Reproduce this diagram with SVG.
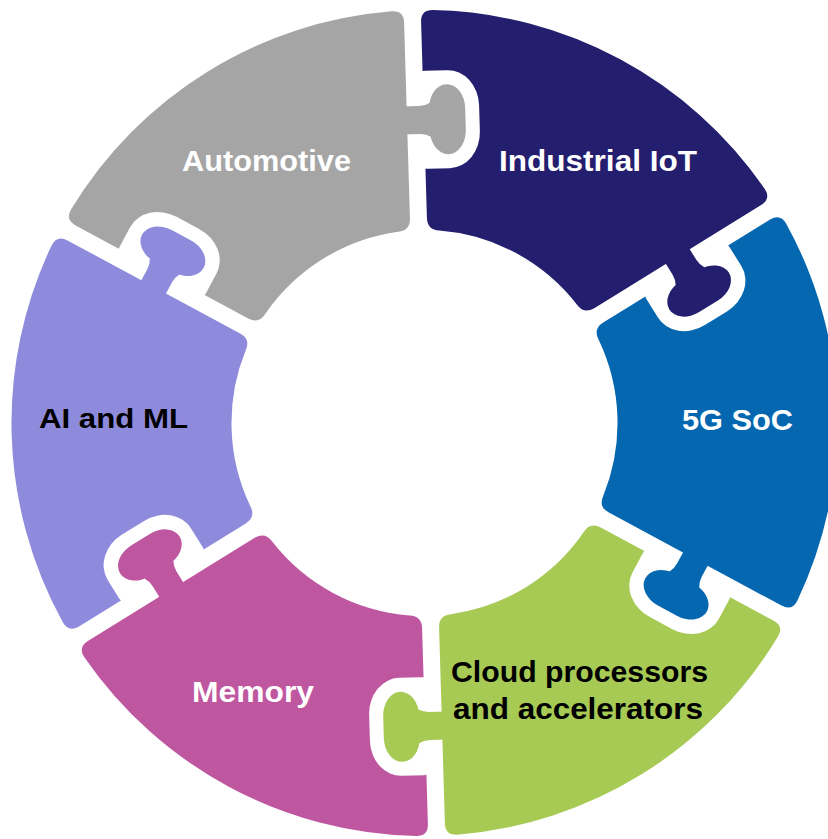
<svg xmlns="http://www.w3.org/2000/svg" width="828" height="839" viewBox="0 0 828 839">
  <style>
    .lbl { font-family: "Liberation Sans", Arial, sans-serif; font-weight: bold; font-size: 30px; }
    .w { fill: #ffffff; }
    .k { fill: #000000; }
  </style>
  <defs>
    <mask id="pm" maskUnits="userSpaceOnUse" x="-470" y="-470" width="940" height="940">
      <path fill="#fff" d="M 8.5 -400.91 Q 8.5 -412.91 20.46 -412.49 A 413 413 0 0 1 346.96 -224.05 Q 353.34 -213.82 342.95 -207.82 L 173.12 -109.77 Q 162.73 -103.77 155.98 -113.70 A 193 193 0 0 0 20.48 -191.91 Q 8.5 -192.81 8.5 -204.81 Z"/>
      <g transform="rotate(60)" fill="#fff">
        <path d="M -14 -317 L 4 -317 Q 10 -317 15 -320 L 15 -286 Q 10 -289 4 -289 L -14 -289 Z"/>
        <rect x="14" y="-338" width="36" height="70" rx="18" ry="24"/>
      </g>
      <rect x="-20" y="-352" width="84" height="98" rx="31" ry="36" fill="#000"/>
    </mask>
  </defs>
  <rect width="828" height="839" fill="#ffffff"/>
  <g id="industrial-iot">
    <g transform="translate(424.5 423) rotate(-1.7)"><rect x="-470" y="-470" width="940" height="940" fill="#231E6E" mask="url(#pm)"/></g>
    <text class="lbl w" x="499" y="171" textLength="198" lengthAdjust="spacingAndGlyphs">Industrial IoT</text>
  </g>
  <g id="5g-soc">
    <g transform="translate(424.5 423) rotate(58.3)"><rect x="-470" y="-470" width="940" height="940" fill="#0467B0" mask="url(#pm)"/></g>
    <text class="lbl w" x="682" y="430" textLength="111" lengthAdjust="spacingAndGlyphs">5G SoC</text>
  </g>
  <g id="cloud">
    <g transform="translate(424.5 423) rotate(118.3)"><rect x="-470" y="-470" width="940" height="940" fill="#A7CA55" mask="url(#pm)"/></g>
    <text class="lbl k" x="451" y="682" textLength="257" lengthAdjust="spacingAndGlyphs">Cloud processors</text>
    <text class="lbl k" x="453" y="719" textLength="250" lengthAdjust="spacingAndGlyphs">and accelerators</text>
  </g>
  <g id="memory">
    <g transform="translate(424.5 423) rotate(178.3)"><rect x="-470" y="-470" width="940" height="940" fill="#BF56A0" mask="url(#pm)"/></g>
    <text class="lbl w" x="192" y="702" textLength="122" lengthAdjust="spacingAndGlyphs">Memory</text>
  </g>
  <g id="ai-ml">
    <g transform="translate(424.5 423) rotate(238.3)"><rect x="-470" y="-470" width="940" height="940" fill="#8E8BDD" mask="url(#pm)"/></g>
    <text class="lbl k" x="39" y="428" style="font-size:27px" textLength="149" lengthAdjust="spacingAndGlyphs">AI and ML</text>
  </g>
  <g id="automotive">
    <g transform="translate(424.5 423) rotate(298.3)"><rect x="-470" y="-470" width="940" height="940" fill="#A5A5A5" mask="url(#pm)"/></g>
    <text class="lbl w" x="182" y="171" textLength="169" lengthAdjust="spacingAndGlyphs">Automotive</text>
  </g>
  <g id="connectors"></g>
</svg>
